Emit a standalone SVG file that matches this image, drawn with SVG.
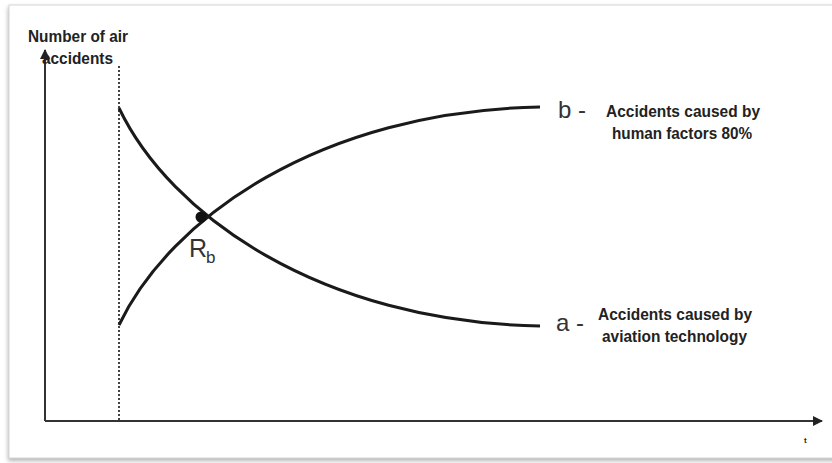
<svg xmlns="http://www.w3.org/2000/svg" width="832" height="463" viewBox="0 0 832 463">
  <defs>
    <filter id="shadow" x="-5%" y="-5%" width="110%" height="110%">
      <feGaussianBlur stdDeviation="2"/>
    </filter>
    <marker id="arrow" viewBox="0 0 10 10" refX="9" refY="5" markerWidth="5" markerHeight="5" orient="auto" markerUnits="strokeWidth">
      <path d="M0,0 L10,5 L0,10 z" fill="#222"/>
    </marker>
    <style>
      .axis { stroke: #333; stroke-width: 2; fill: none; }
      .curve { stroke: #1a1a1a; stroke-width: 3; fill: none; }
      .guide { stroke: #444; stroke-width: 2; stroke-dasharray: 2 2; fill: none; }
      .lbl { font-family: "Liberation Sans", Arial, sans-serif; font-weight: bold; font-size: 17px; fill: #222; }
      .big { font-family: "Liberation Sans", Arial, sans-serif; font-size: 24px; fill: #333; }
    </style>
  </defs>

  <!-- card background with soft shadow -->
  <rect x="8" y="7" width="830" height="454" fill="#b5b5b5" filter="url(#shadow)"/>
  <rect x="9" y="5" width="830" height="453" fill="#fff" stroke="#d6d6d6" stroke-width="1"/>

  <!-- axes and guide line -->
  <g id="connectors">
    <path class="axis" d="M45,421 L45,50" marker-end="url(#arrow)"/>
    <path class="axis" d="M45,421 L822,421" marker-end="url(#arrow)"/>
    <path class="guide" d="M119,66 L119,421"/>
    <path id="curve-a" class="curve" d="M119,108 C170,215 320,322 540,326"/>
    <path id="curve-b" class="curve" d="M119,325 C170,218 320,111 540,107"/>
  </g>

  <g id="y-label">
    <text class="lbl" x="28" y="42" textLength="100" lengthAdjust="spacingAndGlyphs">Number of air</text>
    <text class="lbl" x="42" y="64" textLength="71" lengthAdjust="spacingAndGlyphs">accidents</text>
  </g>

  <g id="node-rb">
    <circle cx="201" cy="217" r="5.5" fill="#111"/>
    <text class="big" x="189" y="257" style="font-size:25px">R</text>
    <text class="big" x="206" y="263" style="font-size:17px">b</text>
  </g>

  <g id="node-b">
    <text class="big" x="558" y="118">b -</text>
    <text class="lbl" x="606" y="117" textLength="154" lengthAdjust="spacingAndGlyphs">Accidents caused by</text>
    <text class="lbl" x="612" y="139" textLength="140" lengthAdjust="spacingAndGlyphs">human factors 80%</text>
  </g>

  <g id="node-a">
    <text class="big" x="556" y="331">a -</text>
    <text class="lbl" x="598" y="320" textLength="154" lengthAdjust="spacingAndGlyphs">Accidents caused by</text>
    <text class="lbl" x="602" y="342" textLength="145" lengthAdjust="spacingAndGlyphs">aviation technology</text>
  </g>

  <g id="x-label">
    <text class="lbl" x="804" y="443" style="font-size:8px">t</text>
  </g>
</svg>
